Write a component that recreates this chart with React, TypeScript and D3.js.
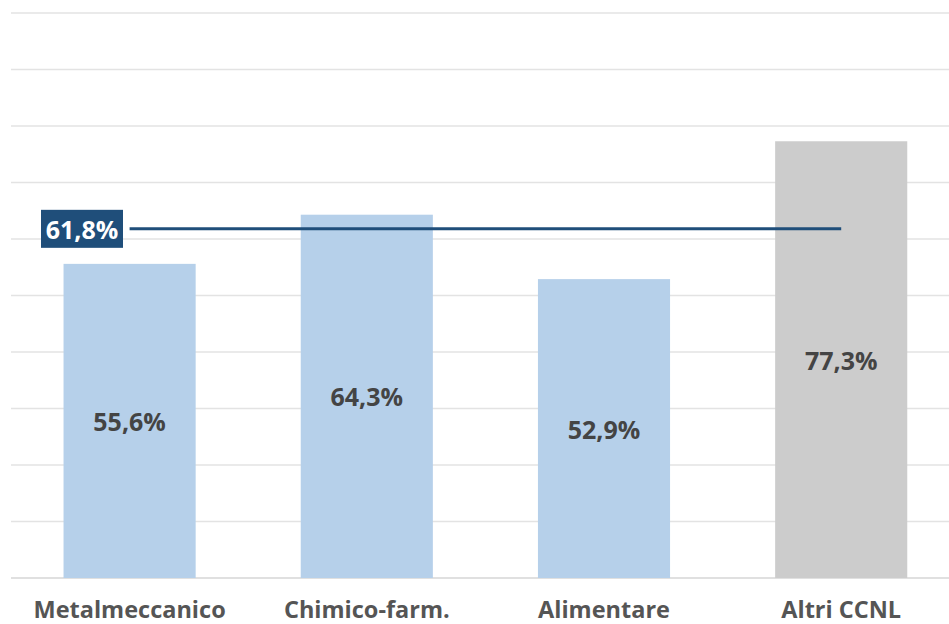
import React from "react";
import * as d3 from "d3";

const categories = ["Metalmeccanico", "Chimico-farm.", "Alimentare", "Altri CCNL"];
const values = [55.6, 64.3, 52.9, 77.3];
const highlighted = [false, false, false, true];
const average = 61.8;
const gridTicks = [0, 10, 20, 30, 40, 50, 60, 70, 80, 90, 100];

const W = 949;
const H = 624;
const left = 11;
const top = 13;
const bottom = 578;

const fmt = (v: number) => v.toFixed(1).replace(".", ",") + "%";

export default function App() {
  const x = d3
    .scaleBand<string>()
    .domain(categories)
    .range([left, left + 4 * 237.2])
    .paddingInner(0.443)
    .paddingOuter(0.2215);
  const y = d3.scaleLinear().domain([0, 100]).range([bottom, top]);

  const font = "'Open Sans', 'Noto Sans', sans-serif";
  const firstC = x(categories[0])! + x.bandwidth() / 2;
  const lastC = x(categories[categories.length - 1])! + x.bandwidth() / 2;
  const ay = y(average);

  return (
    <svg
      width={W}
      height={H}
      style={{ position: "absolute", left: 0, top: 0, background: "#fff" }}
    >
      {gridTicks.map((t) => (
        <line
          key={t}
          x1={left}
          x2={W}
          y1={y(t)}
          y2={y(t)}
          stroke={t === 0 ? "#d6d6d6" : "#e3e3e3"}
          strokeWidth={1.5}
        />
      ))}
      {categories.map((c, i) => (
        <g key={c}>
          <rect
            x={x(c)}
            y={y(values[i])}
            width={x.bandwidth()}
            height={bottom - y(values[i])}
            fill={highlighted[i] ? "#cccccc" : "#b6d0ea"}
          />
          <text
            x={x(c)! + x.bandwidth() / 2}
            y={(y(values[i]) + bottom) / 2}
            textAnchor="middle"
            dominantBaseline="central"
            fontFamily={font}
            fontWeight={700}
            fontSize={25}
            fill="#444"
          >
            {fmt(values[i])}
          </text>
          <text
            x={x(c)! + x.bandwidth() / 2}
            y={617.5}
            textAnchor="middle"
            fontFamily={font}
            fontWeight={700}
            fontSize={23.5}
            fill="#555"
          >
            {c}
          </text>
        </g>
      ))}
      <line x1={firstC} x2={lastC} y1={ay} y2={ay} stroke="#1f4e7a" strokeWidth={3} />
      <rect x={41} y={ay - 19} width={82} height={38} fill="#1f4e7a" />
      <text
        x={82}
        y={ay}
        textAnchor="middle"
        dominantBaseline="central"
        fontFamily={font}
        fontWeight={700}
        fontSize={25}
        fill="#fff"
      >
        {fmt(average)}
      </text>
    </svg>
  );
}
